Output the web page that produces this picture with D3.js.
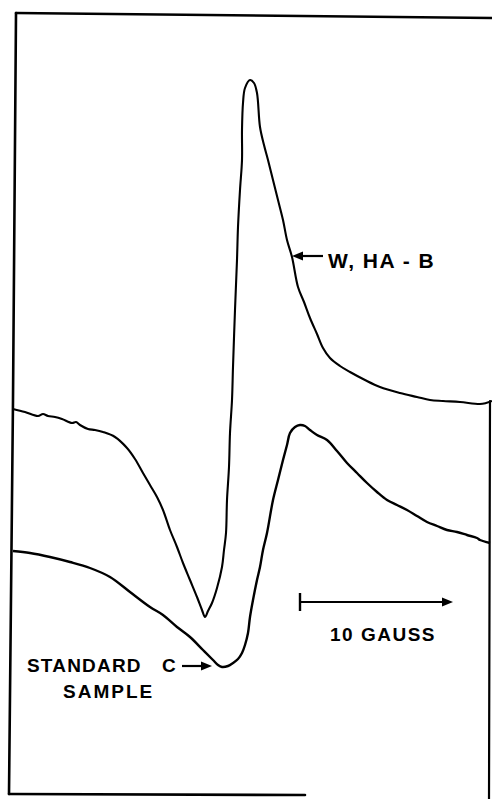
<!DOCTYPE html>
<html><head><meta charset="utf-8">
<script src="https://cdn.jsdelivr.net/npm/d3@7"></script>
<style>html,body{margin:0;padding:0;background:#fff;}svg{display:block;}</style>
</head><body>
<svg id="c" width="492" height="799"></svg>
<script>
// field axis in arbitrary units (x), signal in arbitrary units (y, up is positive)
const curveWx = [0,12,25,30,35,42,49,59,63,67,75,82,90,102,114,122,130,137,144,150,157,164,170,177,184,189,192,195,199,204,209,211,213,214,216,217,219,220,222,224,225,227,229,229,230,232,237,241,244,247,251,255,260,265,270,274,279,285,291,297,304,310,317,327,337,352,367,387,404,417,430,447,467,473,479];
const curveWy = [385,382,378,380,378,377,375,371,372,369,365,364,362,357,346,335,321,309,297,284,264,247,231,214,197,184,177,183,191,206,227,244,261,294,327,361,394,427,484,534,567,604,634,664,691,706,714,711,701,667,649,634,614,594,574,554,537,507,492,476,460,446,436,428,422,414,407,401,397,394,393,392,390,391,393];
const curveCx = [0,17,37,57,77,97,117,137,150,164,177,190,200,205,209,215,220,225,229,232,235,237,240,244,247,250,254,260,265,270,274,277,282,287,292,297,304,314,324,334,344,354,364,374,384,394,404,414,424,434,444,454,464,467,477];
const curveCy = [243,241,237,232,226,217,202,187,179,167,157,144,134,129,127,128,131,135,141,149,161,177,194,214,227,244,261,294,314,334,349,361,367,369,368,364,359,354,343,331,321,311,302,294,289,284,278,272,268,264,262,259,256,254,251];
const scaleBarGauss = 10;           // length of the field marker
const scaleBarStart = 287;          // field units where the marker starts
const fieldPerGauss = 15.3;         // field units per gauss
const labels = {w: "W, HA - B", std1: "STANDARD", stdC: "C", std2: "SAMPLE", gauss: "10 GAUSS"};

const svg = d3.select("#c");
const x = d3.scaleLinear().domain([0, 479]).range([13, 492]);
const y = d3.scaleLinear().domain([0, 780]).range([794, 14]);

// frame
const frame = svg.append("g").attr("stroke", "#000").attr("fill", "none").attr("stroke-linecap","round");
frame.append("path").attr("d", "M16,13 L492,18").attr("stroke-width", 2.6);
frame.append("path").attr("d", "M16,13 L13,400 L9,794").attr("stroke-width", 2.6);
frame.append("path").attr("d", "M9,794 L305,795").attr("stroke-width", 2.6);
frame.append("path").attr("d", "M490,401 L489,799").attr("stroke-width", 2.2);

const line = d3.line().x(d => x(d[0])).y(d => y(d[1])).curve(d3.curveCatmullRom.alpha(0.5));
svg.append("path").datum(d3.zip(curveWx, curveWy)).attr("d", line)
  .attr("fill","none").attr("stroke","#000").attr("stroke-width",2.1).attr("stroke-linejoin","round");
svg.append("path").datum(d3.zip(curveCx, curveCy)).attr("d", line)
  .attr("fill","none").attr("stroke","#000").attr("stroke-width",2.4).attr("stroke-linejoin","round");

function arrow(x1, x2, yy, sw) {
  const dir = x2 > x1 ? 1 : -1;
  svg.append("line").attr("x1", x1).attr("x2", x2 - dir*7).attr("y1", yy).attr("y2", yy)
    .attr("stroke","#000").attr("stroke-width", sw);
  svg.append("path").attr("d", `M${x2},${yy} L${x2 - dir*11},${yy-4.5} L${x2 - dir*11},${yy+4.5} Z`).attr("fill","#000");
}
arrow(323, 292, 256, 2.2);
arrow(182, 212, 666, 2.2);

// scale bar
const bx0 = x(scaleBarStart), bx1 = x(scaleBarStart + scaleBarGauss*fieldPerGauss);
svg.append("line").attr("x1", bx0).attr("x2", bx0).attr("y1", 593).attr("y2", 611).attr("stroke","#000").attr("stroke-width",2.4);
arrow(bx0, bx1, 602, 2.2);

const txt = (s, tx, ty, fs, ls) => svg.append("text").attr("x", tx).attr("y", ty).text(s)
  .attr("font-family","'Liberation Sans', Arial, sans-serif").attr("font-weight","bold")
  .attr("font-size", fs).attr("letter-spacing", ls).attr("fill","#000").style("white-space","pre");
txt(labels.w, 328, 268, 21, 1.5);
txt(labels.std1, 27, 672, 19, 1.2);
txt(labels.stdC, 162, 672, 19, 0);
txt(labels.std2, 63, 698, 19, 2);
txt(labels.gauss, 330, 641, 19, 1.5);
</script>
</body></html>
